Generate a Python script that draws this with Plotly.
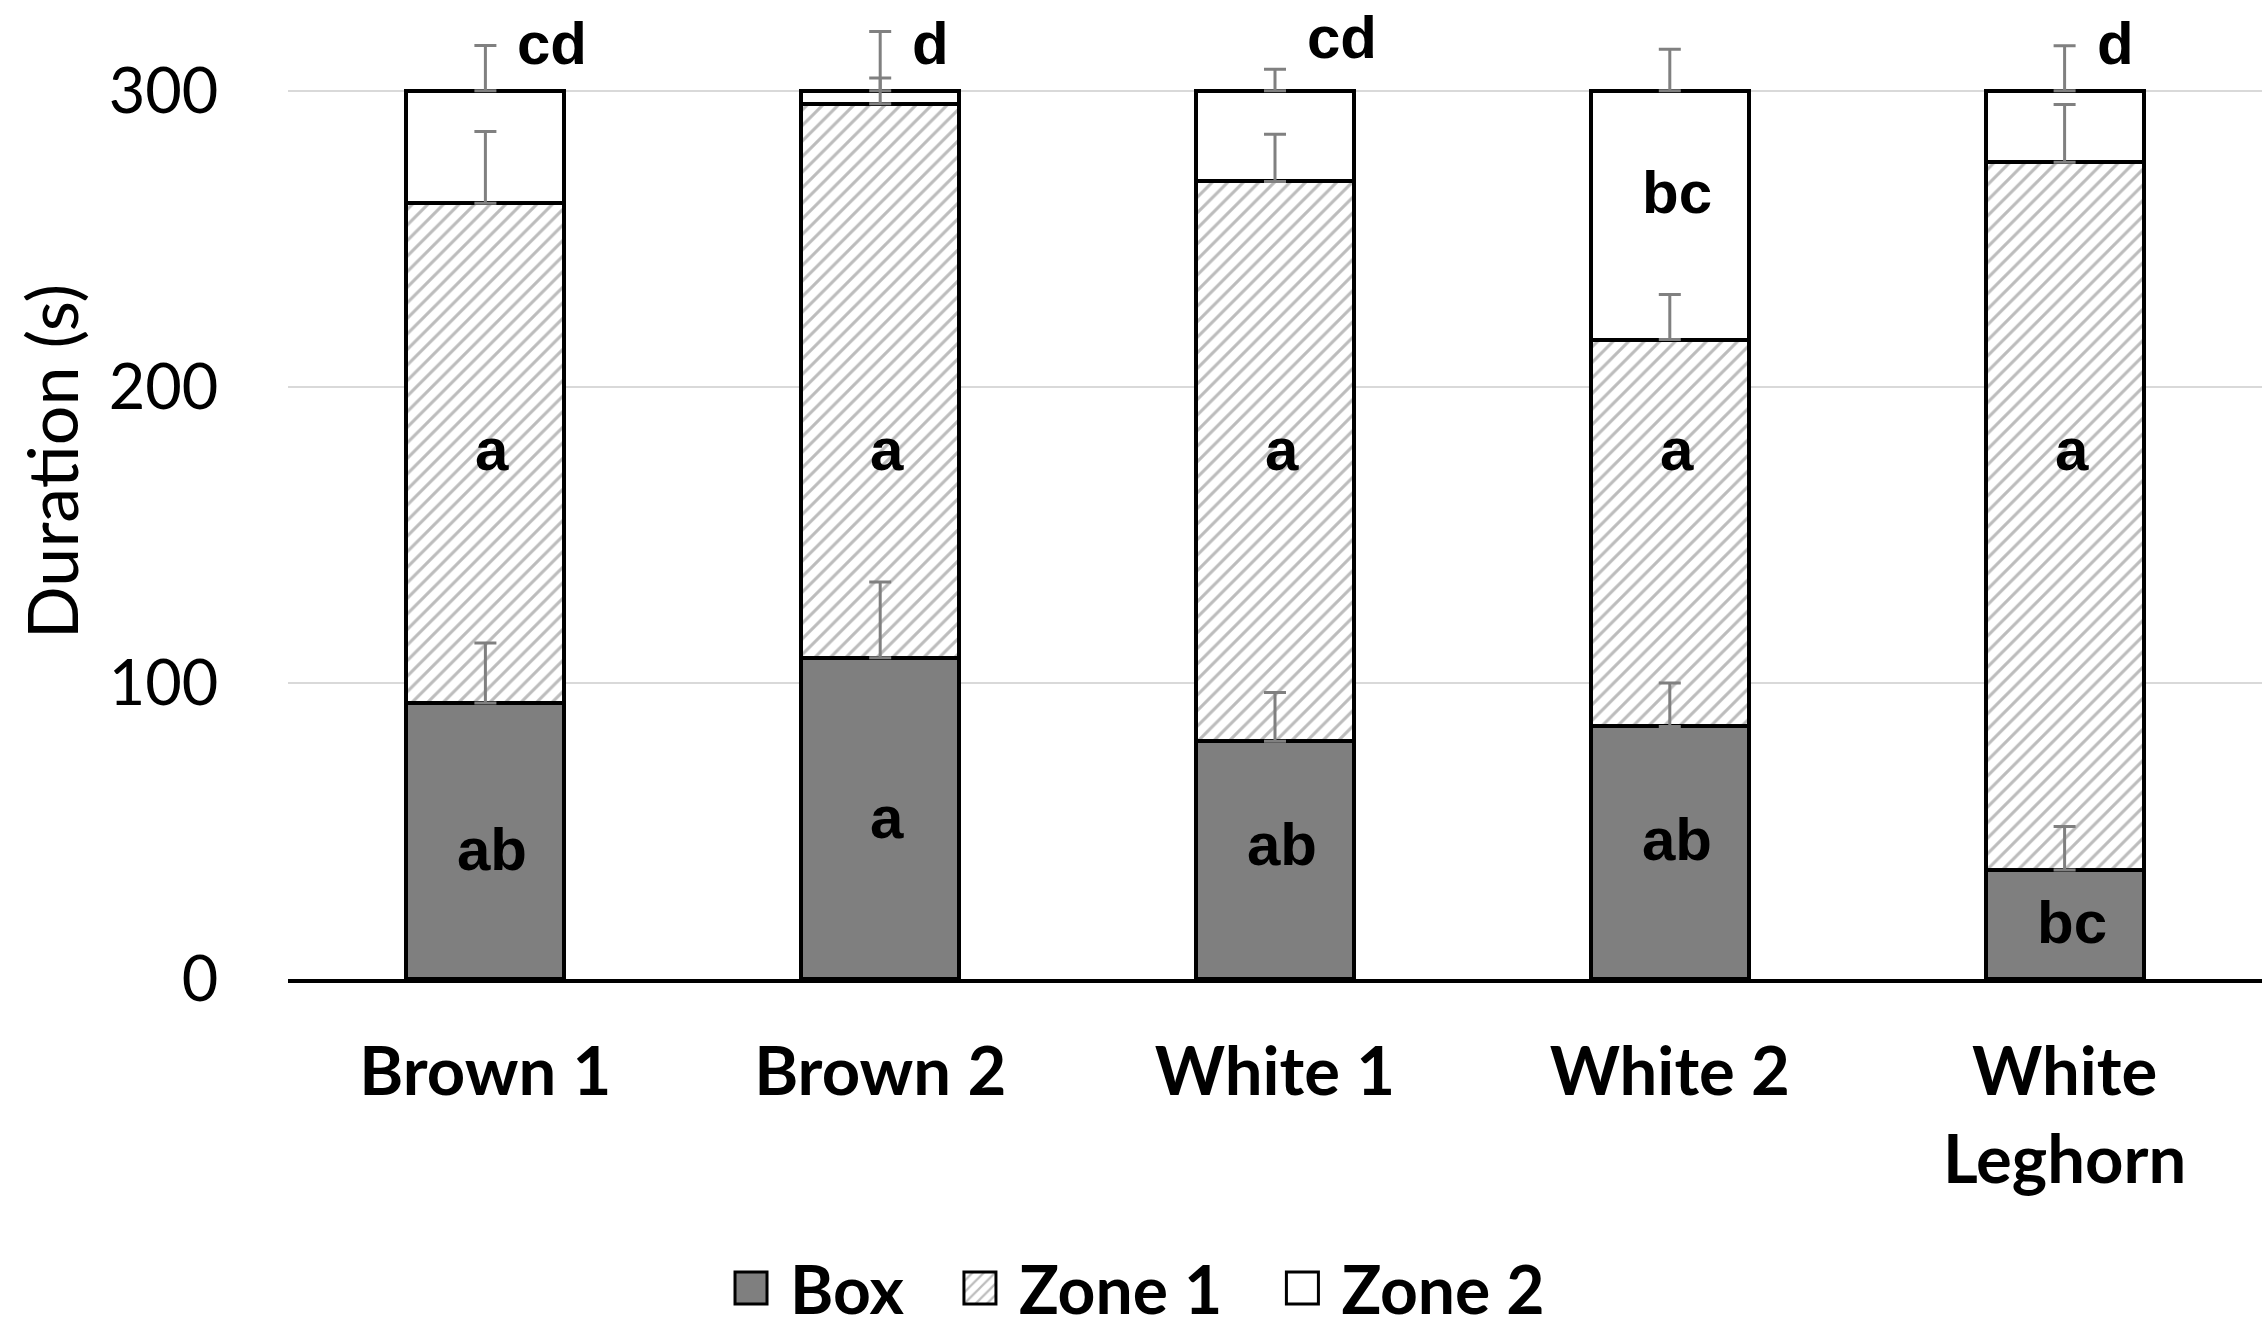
import plotly.graph_objects as go

# ---------------- data ----------------
categories = ["Brown 1", "Brown 2", "White 1", "White 2", "White<br>Leghorn"]
box = [93.2, 108.5, 80.3, 85.3, 36.8]
zone1 = [168.8, 187.1, 189.1, 130.7, 239.1]
zone2 = [38.0, 4.4, 30.6, 84.0, 24.1]
box_err = [20.3, 25.6, 16.5, 14.7, 14.7]
zone1_err = [24.3, 8.7, 15.9, 15.2, 19.5]
zone2_err = [15.3, 20.0, 7.3, 14.0, 15.2]
box_letters = ["ab", "a", "ab", "ab", "bc"]
zone1_letters = ["a", "a", "a", "a", "a"]
zone2_letters = ["cd", "d", "cd", "bc", "d"]
series_names = ["Box", "Zone 1", "Zone 2"]
y_ticks = [0, 100, 200, 300]

# label placement (data units, as laid out in the original figure)
box_label_y = [43.7, 54.5, 45.3, 47.2, 19.0]
zone1_label_y = [179, 179, 179, 179, 179]
zone2_label_y = [316, 316, 318, 265.7, 316]

# ---------------- derived ----------------
top_box = box
top_z1 = [b + z for b, z in zip(box, zone1)]
top_z2 = [b + z1 + z2 for b, z1, z2 in zip(box, zone1, zone2)]

LETTER_FONT = dict(family="Liberation Sans", size=60, color="black", weight="bold")
OUTLINE = dict(color="black", width=4)
NBSP = "\u00a0"
legend_pad = [NBSP * 2, NBSP * 2 + "\u200a", ""]

fig = go.Figure()
fig.add_trace(go.Bar(
    name=series_names[0] + legend_pad[0], x=categories, y=box, width=0.4,
    marker=dict(color="#7f7f7f", line=OUTLINE), hoverinfo="skip",
))
fig.add_trace(go.Bar(
    name=series_names[1] + legend_pad[1], x=categories, y=zone1, width=0.4,
    marker=dict(color="white", line=OUTLINE,
                pattern=dict(shape="/", size=11, solidity=0.28,
                             fgcolor="#7a7a7a", bgcolor="white")),
    hoverinfo="skip",
))
fig.add_trace(go.Bar(
    name=series_names[2] + legend_pad[2], x=categories, y=zone2, width=0.4,
    marker=dict(color="white", line=OUTLINE), hoverinfo="skip",
))

# error bars (drawn above all bars)
for tops, errs in [(top_box, box_err), (top_z1, zone1_err), (top_z2, zone2_err)]:
    fig.add_trace(go.Scatter(
        x=categories, y=tops, mode="markers",
        marker=dict(size=1, opacity=0), showlegend=False, hoverinfo="skip",
        error_y=dict(type="data", array=errs, arrayminus=[0] * len(errs),
                     symmetric=False, color="#808080", thickness=3, width=11),
    ))

# significance letters
for i, cat in enumerate(categories):
    fig.add_annotation(x=cat, y=box_label_y[i], text=box_letters[i], xshift=7,
                       showarrow=False, font=LETTER_FONT)
    fig.add_annotation(x=cat, y=zone1_label_y[i], text=zone1_letters[i], xshift=7,
                       showarrow=False, font=LETTER_FONT)
    seg_bottom, seg_top = top_z1[i], top_z2[i]
    if seg_bottom < zone2_label_y[i] < seg_top:
        fig.add_annotation(x=cat, y=zone2_label_y[i], text=zone2_letters[i], xshift=7,
                           showarrow=False, font=LETTER_FONT)
    else:
        fig.add_annotation(x=cat, y=zone2_label_y[i], text=zone2_letters[i],
                           xanchor="left", xshift=30, showarrow=False, font=LETTER_FONT)

# y-axis title
fig.add_annotation(xref="paper", yref="paper", x=-0.120, y=0.530, text="Duration (s)",
                   textangle=-90, showarrow=False, xanchor="center", yanchor="middle",
                   font=dict(family="Lato", size=70, color="black"))

fig.update_layout(
    width=2262, height=1328,
    margin=dict(l=288, r=0, t=2, b=349, autoexpand=False),
    barmode="stack",
    paper_bgcolor="white", plot_bgcolor="white",
    showlegend=True,
    legend=dict(orientation="h", x=0.2148, xanchor="left", y=-0.3163,
                yanchor="middle", traceorder="normal", itemwidth=68,
                font=dict(family="Lato", size=66, color="black", weight="bold")),
)
fig.update_xaxes(
    showline=True, linecolor="black", linewidth=4, showgrid=False,
    ticks="outside", ticklen=32, tickcolor="rgba(0,0,0,0)",
    tickfont=dict(family="Lato", size=67, color="black", weight="bold"),
    automargin=False,
)
fig.update_yaxes(
    range=[0, 330], tickvals=y_ticks, showgrid=True, gridcolor="#d9d9d9",
    gridwidth=2, zeroline=False, showline=False,
    ticks="outside", ticklen=56, tickcolor="rgba(0,0,0,0)",
    tickfont=dict(family="Lato", size=63, color="black"),
    automargin=False,
)

# page without the default body margin; enlarge legend swatches to the
# original's large square keys
post = """
document.body.style.margin = '0';
var gd = document.getElementsByClassName('plotly-graph-div')[0];
gd.querySelectorAll('.legend .legendpoints path').forEach(function(p){
  p.setAttribute('d','M16,16H-16V-16H16Z');
  p.style.strokeWidth = '3px';
});
"""
fig.write_html("out.html", post_script=post, config={"displayModeBar": False})
